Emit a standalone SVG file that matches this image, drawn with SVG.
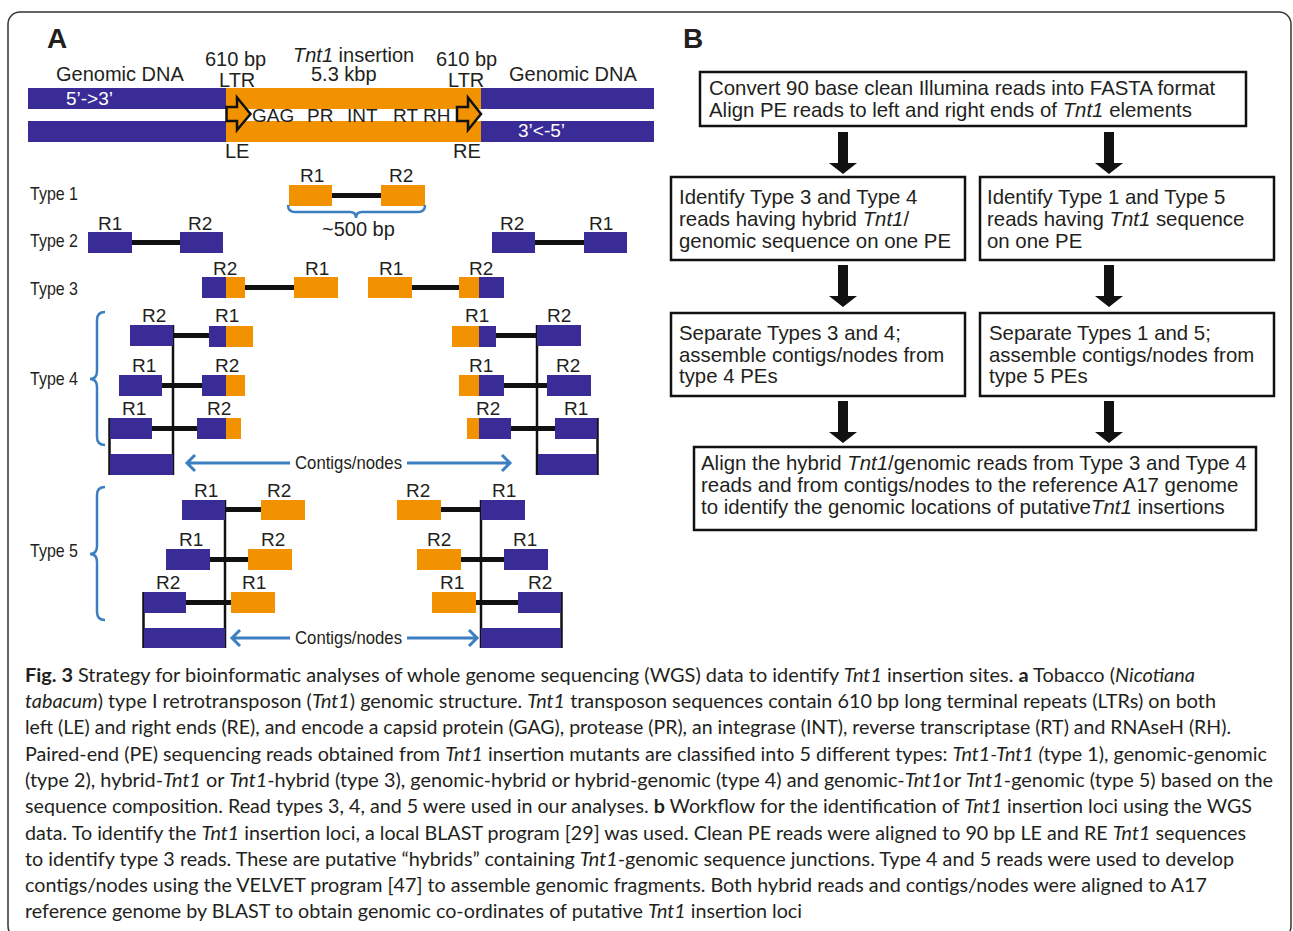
<svg xmlns="http://www.w3.org/2000/svg" width="1293" height="931" viewBox="0 0 1293 931">
<style>
text{font-family:"Liberation Sans",Arial,sans-serif;fill:#231f20}
.t20{font-size:20px}
.t19{font-size:19px}
.r{font-size:19px}
.ty{font-size:19px}
.w{fill:#ffffff;font-size:19px}
.big{font-size:28px;font-weight:bold}
.cn{font-size:19px}
.b{fill:#3a2c96}
.o{fill:#f39200}
.ln{stroke:#111;stroke-width:5;fill:none}
.vl{stroke:#111;stroke-width:2.5;fill:none}
.br{stroke:#3c7fc1;stroke-width:2.5;fill:none}
.ca{stroke:#3c7fc1;stroke-width:3;fill:none}
.box{fill:#fff;stroke:#111;stroke-width:2.5}
.bx{font-size:20.4px}
.cap{font-family:Lato,"Open Sans",sans-serif;font-size:18.5px;fill:#231f20}
.it{font-style:italic}
.bd{font-weight:bold}
.arr{stroke:#111;stroke-width:2.5;fill:#f39200;stroke-linejoin:miter}
</style>
<defs>
<path id="barrow" d="M-5,0 H5 V31 H14 L0,42 L-14,31 H-5 Z" fill="#111"/>
</defs>
<rect x="0" y="0" width="1293" height="931" fill="#fff"/>
<rect id="frame" x="8" y="12" width="1283" height="926" rx="12" fill="none" stroke="#333" stroke-width="1.5"/>

<!-- Panel A -->
<g id="panelA-label"><text class="big" x="47" y="48">A</text></g>

<g id="tnt1-structure">
<rect class="b" x="28" y="88" width="626" height="21"/>
<rect class="b" x="28" y="121" width="626" height="21"/>
<rect class="o" x="226" y="88" width="255" height="21"/>
<rect class="o" x="226" y="121" width="255" height="21"/>
<polygon class="arr" points="226.5,107 237,107 237,97.5 250.5,114 237,130 237,121 226.5,121"/>
<polygon class="arr" points="457,107 468,107 468,97.5 481,114 468,130 468,121 457,121"/>
<text class="t20" x="56" y="81">Genomic DNA</text>
<text class="t20" x="205" y="65.5">610 bp</text>
<text class="t20" x="219" y="87">LTR</text>
<text class="t20" x="293" y="62"><tspan class="it">Tnt1</tspan> insertion</text>
<text class="t20" x="311" y="81">5.3 kbp</text>
<text class="t20" x="436" y="65.5">610 bp</text>
<text class="t20" x="448" y="87">LTR</text>
<text class="t20" x="509" y="81">Genomic DNA</text>
<text class="w" x="66" y="105">5’-&gt;3’</text>
<text class="w" x="518" y="137">3’&lt;-5’</text>
<text class="t19" x="252" y="122">GAG</text>
<text class="t19" x="307" y="122">PR</text>
<text class="t19" x="347" y="122">INT</text>
<text class="t19" x="393" y="122">RT</text>
<text class="t19" x="423" y="122">RH</text>
<text class="t20" x="225" y="158">LE</text>
<text class="t20" x="453" y="158">RE</text>
</g>

<g id="type1">
<text class="ty" x="30" y="200" textLength="48" lengthAdjust="spacingAndGlyphs">Type 1</text>
<line class="ln" x1="332" y1="195.5" x2="381" y2="195.5"/>
<rect class="o" x="289" y="185" width="43" height="21"/>
<rect class="o" x="381" y="185" width="44" height="21"/>
<text class="r" x="300" y="182">R1</text>
<text class="r" x="389" y="182">R2</text>
<path class="br" d="M288,205 Q288,212 295,212 H350 Q356,212 356,218 Q356,212 362,212 H418 Q425,212 425,205"/>
<text class="t20" x="322" y="236">~500 bp</text>
</g>

<g id="type2">
<text class="ty" x="30" y="247" textLength="48" lengthAdjust="spacingAndGlyphs">Type 2</text>
<line class="ln" x1="132" y1="242.5" x2="180" y2="242.5"/>
<rect class="b" x="88" y="232" width="44" height="21"/>
<rect class="b" x="180" y="232" width="43" height="21"/>
<text class="r" x="98" y="230">R1</text>
<text class="r" x="188" y="230">R2</text>
<line class="ln" x1="535" y1="242.5" x2="584" y2="242.5"/>
<rect class="b" x="492" y="232" width="43" height="21"/>
<rect class="b" x="584" y="232" width="43" height="21"/>
<text class="r" x="500" y="230">R2</text>
<text class="r" x="589" y="230">R1</text>
</g>

<g id="type3">
<text class="ty" x="30" y="295" textLength="48" lengthAdjust="spacingAndGlyphs">Type 3</text>
<line class="ln" x1="245" y1="287.5" x2="294" y2="287.5"/>
<rect class="b" x="202" y="277" width="24" height="21"/>
<rect class="o" x="226" y="277" width="19" height="21"/>
<rect class="o" x="294" y="277" width="44" height="21"/>
<text class="r" x="213" y="275">R2</text>
<text class="r" x="305" y="275">R1</text>
<line class="ln" x1="412" y1="287.5" x2="459" y2="287.5"/>
<rect class="o" x="368" y="277" width="44" height="21"/>
<rect class="o" x="459" y="277" width="20" height="21"/>
<rect class="b" x="479" y="277" width="25" height="21"/>
<text class="r" x="379" y="275">R1</text>
<text class="r" x="469" y="275">R2</text>
</g>

<g id="type4">
<text class="ty" x="30" y="385" textLength="48" lengthAdjust="spacingAndGlyphs">Type 4</text>
<path class="br" d="M105,312 Q97,312 97,320 V371 Q97,379 90,379 Q97,379 97,387 V437 Q97,445 105,445"/>
<!-- left cluster -->
<line class="vl" x1="173" y1="325" x2="173" y2="475"/>
<line class="vl" x1="109.5" y1="418" x2="109.5" y2="475"/>
<line class="ln" x1="173" y1="335.5" x2="209" y2="335.5"/>
<line class="ln" x1="162" y1="385.5" x2="202" y2="385.5"/>
<line class="ln" x1="152" y1="428.5" x2="197" y2="428.5"/>
<rect class="b" x="130" y="325" width="43" height="21"/>
<rect class="b" x="209" y="326" width="17" height="21"/>
<rect class="o" x="226" y="326" width="27" height="21"/>
<rect class="b" x="119" y="375" width="43" height="21"/>
<rect class="b" x="202" y="375" width="24" height="21"/>
<rect class="o" x="226" y="375" width="19" height="21"/>
<rect class="b" x="110" y="418" width="42" height="21"/>
<rect class="b" x="197" y="418" width="29" height="21"/>
<rect class="o" x="226" y="418" width="15" height="21"/>
<rect class="b" x="110" y="454" width="63" height="21"/>
<text class="r" x="142" y="322">R2</text>
<text class="r" x="215" y="322">R1</text>
<text class="r" x="132" y="372">R1</text>
<text class="r" x="215" y="372">R2</text>
<text class="r" x="122" y="415">R1</text>
<text class="r" x="207" y="415">R2</text>
<!-- right cluster -->
<line class="vl" x1="537" y1="325" x2="537" y2="475"/>
<line class="vl" x1="597.5" y1="418" x2="597.5" y2="475"/>
<line class="ln" x1="496" y1="335.5" x2="537" y2="335.5"/>
<line class="ln" x1="504" y1="385.5" x2="547" y2="385.5"/>
<line class="ln" x1="511" y1="428.5" x2="555" y2="428.5"/>
<rect class="o" x="452" y="326" width="27" height="21"/>
<rect class="b" x="479" y="326" width="17" height="21"/>
<rect class="b" x="537" y="325" width="44" height="21"/>
<rect class="o" x="459" y="375" width="20" height="21"/>
<rect class="b" x="479" y="375" width="25" height="21"/>
<rect class="b" x="547" y="375" width="44" height="21"/>
<rect class="o" x="467" y="418" width="12" height="21"/>
<rect class="b" x="479" y="418" width="32" height="21"/>
<rect class="b" x="555" y="418" width="42" height="21"/>
<rect class="b" x="538" y="454" width="59" height="21"/>
<text class="r" x="465" y="322">R1</text>
<text class="r" x="547" y="322">R2</text>
<text class="r" x="469" y="372">R1</text>
<text class="r" x="556" y="372">R2</text>
<text class="r" x="476" y="415">R2</text>
<text class="r" x="564" y="415">R1</text>
</g>

<g id="contigs4">
<path class="ca" d="M187,463 H290 M195,455 L187,463 L195,471 M407,463 H510 M502,455 L510,463 L502,471"/>
<text class="cn" x="295" y="469" textLength="107" lengthAdjust="spacingAndGlyphs">Contigs/nodes</text>
</g>

<g id="type5">
<text class="ty" x="30" y="557" textLength="48" lengthAdjust="spacingAndGlyphs">Type 5</text>
<path class="br" d="M105,487 Q97,487 97,495 V546 Q97,554 90,554 Q97,554 97,562 V612 Q97,620 105,620"/>
<!-- left cluster -->
<line class="vl" x1="225" y1="500" x2="225" y2="648"/>
<line class="vl" x1="143.5" y1="592" x2="143.5" y2="648"/>
<line class="ln" x1="225" y1="509.5" x2="261" y2="509.5"/>
<line class="ln" x1="210" y1="559.5" x2="248" y2="559.5"/>
<line class="ln" x1="186" y1="602.5" x2="231" y2="602.5"/>
<rect class="b" x="182" y="500" width="43" height="20"/>
<rect class="o" x="261" y="500" width="44" height="20"/>
<rect class="b" x="166" y="549" width="44" height="21"/>
<rect class="o" x="248" y="549" width="44" height="21"/>
<rect class="b" x="144" y="592" width="42" height="21"/>
<rect class="o" x="231" y="592" width="44" height="21"/>
<rect class="b" x="144" y="628" width="81" height="20"/>
<text class="r" x="194" y="497">R1</text>
<text class="r" x="267" y="497">R2</text>
<text class="r" x="179" y="546">R1</text>
<text class="r" x="261" y="546">R2</text>
<text class="r" x="156" y="589">R2</text>
<text class="r" x="242" y="589">R1</text>
<!-- right cluster -->
<line class="vl" x1="481" y1="500" x2="481" y2="648"/>
<line class="vl" x1="561.5" y1="592" x2="561.5" y2="648"/>
<line class="ln" x1="441" y1="509.5" x2="481" y2="509.5"/>
<line class="ln" x1="461" y1="559.5" x2="504" y2="559.5"/>
<line class="ln" x1="476" y1="602.5" x2="518" y2="602.5"/>
<rect class="o" x="397" y="500" width="44" height="20"/>
<rect class="b" x="481" y="500" width="44" height="20"/>
<rect class="o" x="417" y="549" width="44" height="21"/>
<rect class="b" x="504" y="549" width="44" height="21"/>
<rect class="o" x="432" y="592" width="44" height="21"/>
<rect class="b" x="518" y="592" width="43" height="21"/>
<rect class="b" x="481" y="628" width="80" height="20"/>
<text class="r" x="406" y="497">R2</text>
<text class="r" x="492" y="497">R1</text>
<text class="r" x="427" y="546">R2</text>
<text class="r" x="513" y="546">R1</text>
<text class="r" x="440" y="589">R1</text>
<text class="r" x="528" y="589">R2</text>
</g>

<g id="contigs5">
<path class="ca" d="M232,638 H290 M240,630 L232,638 L240,646 M407,638 H477 M469,630 L477,638 L469,646"/>
<text class="cn" x="295" y="644" textLength="107" lengthAdjust="spacingAndGlyphs">Contigs/nodes</text>
</g>

<!-- Panel B -->
<g id="panelB-label"><text class="big" x="683" y="48">B</text></g>

<g id="connectors">
<use href="#barrow" x="843" y="132"/>
<use href="#barrow" x="1109" y="132"/>
<use href="#barrow" x="843" y="265"/>
<use href="#barrow" x="1109" y="265"/>
<use href="#barrow" x="843" y="401"/>
<use href="#barrow" x="1109" y="401"/>
</g>

<g id="box-convert">
<rect class="box" x="700" y="72" width="546" height="54"/>
<text class="bx" x="709" y="95">Convert 90 base clean Illumina reads into FASTA format</text>
<text class="bx" x="709" y="117">Align PE reads to left and right ends of <tspan class="it">Tnt1</tspan> elements</text>
</g>

<g id="box-identify34">
<rect class="box" x="671" y="177" width="294" height="83"/>
<text class="bx" x="679" y="204">Identify Type 3 and Type 4</text>
<text class="bx" x="679" y="226">reads having hybrid <tspan class="it">Tnt1</tspan>/</text>
<text class="bx" x="679" y="248">genomic sequence on one PE</text>
</g>

<g id="box-identify15">
<rect class="box" x="980" y="177" width="294" height="83"/>
<text class="bx" x="987" y="204">Identify Type 1 and Type 5</text>
<text class="bx" x="987" y="226">reads having <tspan class="it">Tnt1</tspan> sequence</text>
<text class="bx" x="987" y="248">on one PE</text>
</g>

<g id="box-separate34">
<rect class="box" x="671" y="313" width="294" height="83"/>
<text class="bx" x="679" y="340">Separate Types 3 and 4;</text>
<text class="bx" x="679" y="362">assemble contigs/nodes from</text>
<text class="bx" x="679" y="383">type 4 PEs</text>
</g>

<g id="box-separate15">
<rect class="box" x="980" y="313" width="294" height="83"/>
<text class="bx" x="989" y="340">Separate Types 1 and 5;</text>
<text class="bx" x="989" y="362">assemble contigs/nodes from</text>
<text class="bx" x="989" y="383">type 5 PEs</text>
</g>

<g id="box-align">
<rect class="box" x="694" y="447" width="562" height="83"/>
<text class="bx" x="701" y="470">Align the hybrid <tspan class="it">Tnt1</tspan>/genomic reads from Type 3 and Type 4</text>
<text class="bx" x="701" y="492">reads and from contigs/nodes to the reference A17 genome</text>
<text class="bx" x="701" y="514">to identify the genomic locations of putative<tspan class="it">Tnt1</tspan> insertions</text>
</g>

<!-- Caption -->
<g id="caption">
<text class="cap" x="25" y="682" textLength="1170" lengthAdjust="spacingAndGlyphs"><tspan class="bd">Fig. 3</tspan> Strategy for bioinformatic analyses of whole genome sequencing (WGS) data to identify <tspan class="it">Tnt1</tspan> insertion sites. <tspan class="bd">a</tspan> Tobacco (<tspan class="it">Nicotiana</tspan></text>
<text class="cap" x="25" y="708" textLength="1191" lengthAdjust="spacingAndGlyphs"><tspan class="it">tabacum</tspan>) type I retrotransposon (<tspan class="it">Tnt1</tspan>) genomic structure. <tspan class="it">Tnt1</tspan> transposon sequences contain 610 bp long terminal repeats (LTRs) on both</text>
<text class="cap" x="25" y="734" textLength="1206" lengthAdjust="spacingAndGlyphs">left (LE) and right ends (RE), and encode a capsid protein (GAG), protease (PR), an integrase (INT), reverse transcriptase (RT) and RNAseH (RH).</text>
<text class="cap" x="25" y="761" textLength="1242" lengthAdjust="spacingAndGlyphs">Paired-end (PE) sequencing reads obtained from <tspan class="it">Tnt1</tspan> insertion mutants are classified into 5 different types: <tspan class="it">Tnt1-Tnt1 (</tspan>type 1), genomic-genomic</text>
<text class="cap" x="25" y="787" textLength="1248" lengthAdjust="spacingAndGlyphs">(type 2), hybrid-<tspan class="it">Tnt1</tspan> or <tspan class="it">Tnt1</tspan>-hybrid (type 3), genomic-hybrid or hybrid-genomic (type 4) and genomic-<tspan class="it">Tnt1</tspan>or <tspan class="it">Tnt1</tspan>-genomic (type 5) based on the</text>
<text class="cap" x="25" y="813" textLength="1227" lengthAdjust="spacingAndGlyphs">sequence composition. Read types 3, 4, and 5 were used in our analyses. <tspan class="bd">b</tspan> Workflow for the identification of <tspan class="it">Tnt1</tspan> insertion loci using the WGS</text>
<text class="cap" x="25" y="840" textLength="1221" lengthAdjust="spacingAndGlyphs">data. To identify the <tspan class="it">Tnt1</tspan> insertion loci, a local BLAST program [29] was used. Clean PE reads were aligned to 90 bp LE and RE <tspan class="it">Tnt1</tspan> sequences</text>
<text class="cap" x="25" y="866" textLength="1209" lengthAdjust="spacingAndGlyphs">to identify type 3 reads. These are putative “hybrids” containing <tspan class="it">Tnt1</tspan>-genomic sequence junctions. Type 4 and 5 reads were used to develop</text>
<text class="cap" x="25" y="892" textLength="1182" lengthAdjust="spacingAndGlyphs">contigs/nodes using the VELVET program [47] to assemble genomic fragments. Both hybrid reads and contigs/nodes were aligned to A17</text>
<text class="cap" x="25" y="918" textLength="777" lengthAdjust="spacingAndGlyphs">reference genome by BLAST to obtain genomic co-ordinates of putative <tspan class="it">Tnt1</tspan> insertion loci</text>
</g>
</svg>
